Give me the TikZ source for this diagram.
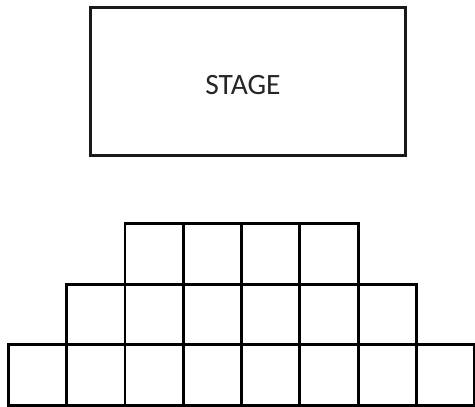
\documentclass[tikz,border=0pt]{standalone}
\usepackage{fontspec}
\setmainfont{Carlito}
\begin{document}
\begin{tikzpicture}[x=1pt,y=-1pt,
  seat/.style={draw=black,line width=2.8pt,minimum width=58.3pt,minimum height=60.5pt,inner sep=0pt,outer sep=0pt},
  stagebox/.style={draw=black!90,line width=3pt,minimum width=315pt,minimum height=148pt,inner sep=0pt},
  stagetext/.style={inner sep=0pt,font=\fontsize{29.5}{32}\selectfont,text=black!85}]
\useasboundingbox (0,0) rectangle (475,407);
\node[stagebox] (stage) at (247.5,81.5) {};
\node[stagetext] (stagelabel) at (243,85) {STAGE};
% top row
\foreach \i in {2,...,5} {
  \node[seat] (t\i) at ({8.3+58.3*\i+29.15},254) {};
}
% middle row
\foreach \i in {1,...,6} {
  \node[seat] (m\i) at ({8.3+58.3*\i+29.15},314.5) {};
}
% bottom row
\foreach \i in {0,...,7} {
  \node[seat] (b\i) at ({8.3+58.3*\i+29.15},375) {};
}
\end{tikzpicture}
\end{document}
